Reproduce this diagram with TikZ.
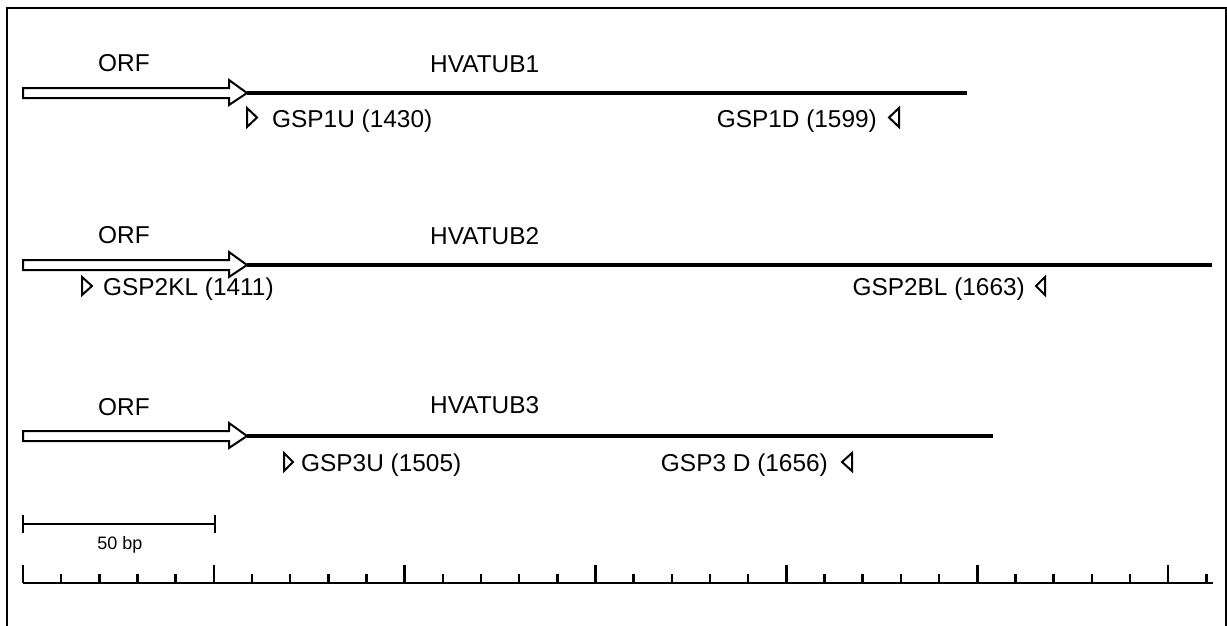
\documentclass[tikz,border=0pt]{standalone}
\usepackage{fontspec}
\setmainfont{Liberation Sans}
\usetikzlibrary{positioning}

\begin{document}
\begin{tikzpicture}[x=1pt, y=-1pt, font=\fontsize{24.4}{28}\selectfont,
  gene/.style={line width=4.5pt},
  orf/.style={draw, line width=2pt, fill=white, line join=miter},
  primer/.style={draw, line width=2pt, line join=miter},
  ruler/.style={line width=2.5pt},
  lbl/.style={anchor=base west, inner sep=0pt},
  rlbl/.style={anchor=base east, inner sep=0pt}]
\useasboundingbox (0,0) rectangle (1227,625);
% frame, open at the bottom
\draw[line width=2pt] (7,630) -- (7,8) -- (1226,8) -- (1226,630);

% three genes: ORF arrow then the rest of the transcript
\foreach \y/\e [count=\k] in {93/967, 265/1212, 436/993} {
  \coordinate (g\k s) at (247,\y);
  \coordinate (g\k e) at (\e,\y);
  \draw[gene] (g\k s) -- (g\k e);
  \draw[orf] (23,\y-5) -- (229,\y-5) -- (229,\y-13) -- (g\k s)
    -- (229,\y+12) -- (229,\y+5) -- (23,\y+5) -- cycle;
}

% HVATUB1
\node[lbl] (orf1) at (98,71) {ORF};
\node[lbl] (hv1) at (430,72) {HVATUB1};
\draw[primer] (247,108) -- (257,117.5) -- (247,127) -- cycle;
\node[lbl] (gsp1u) at (272,127) {GSP1U (1430)};
\node[rlbl] (gsp1d) at (877,127) {GSP1D (1599)};
\draw[primer] (899,108) -- (889,117.5) -- (899,127) -- cycle;

% HVATUB2
\node[lbl] (orf2) at (98,243) {ORF};
\node[lbl] (hv2) at (430,244) {HVATUB2};
\draw[primer] (82,277) -- (92,286) -- (82,295) -- cycle;
\node[lbl] (gsp2kl) at (103,295) {GSP2KL (1411)};
\node[rlbl] (gsp2bl) at (1025,295) {GSP2BL (1663)};
\draw[primer] (1045,277) -- (1036,286) -- (1045,295) -- cycle;

% HVATUB3
\node[lbl] (orf3) at (98,415) {ORF};
\node[lbl] (hv3) at (430,413) {HVATUB3};
\draw[primer] (284,453) -- (293,462) -- (284,471) -- cycle;
\node[lbl] (gsp3u) at (301,471) {GSP3U (1505)};
\node[rlbl] (gsp3d) at (828,471) {GSP3 D (1656)};
\draw[primer] (852,453) -- (842,462) -- (852,471) -- cycle;

% scale bar
\coordinate (sb1) at (23,524);
\coordinate (sb2) at (215,524);
\draw[ruler] (sb1) -- (sb2);
\draw[ruler] ([yshift=-9pt]sb1) -- ([yshift=9pt]sb1);
\draw[ruler] ([yshift=-9pt]sb2) -- ([yshift=9pt]sb2);
\node[font=\fontsize{18}{20}\selectfont] (bp) at (120,545) {50 bp};

% ruler, a tick every 5 bp
\coordinate (r0) at (23,583);
\coordinate (r1) at (1213,583);
\draw[ruler] (r0) -- (r1);
\foreach \i in {0,...,31} {
  \pgfmathsetmacro{\h}{mod(\i,5)==0 ? 18 : 9}
  \draw[ruler] (23+38.17*\i,583) -- ++(0,-\h);
}
\end{tikzpicture}
\end{document}
